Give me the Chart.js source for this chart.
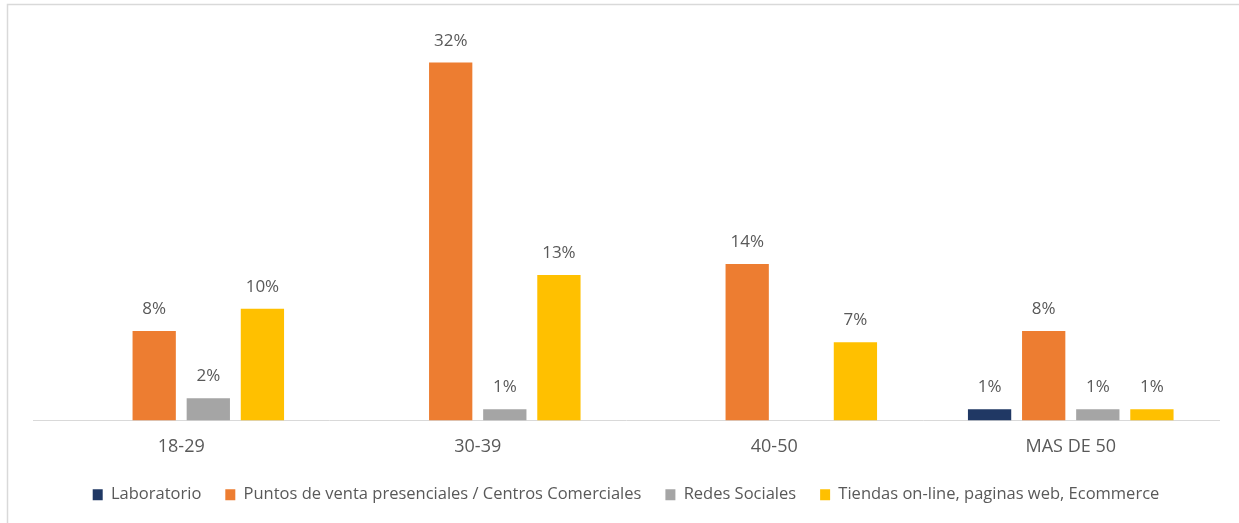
<!DOCTYPE html>
<html>
<head>
<meta charset="utf-8">
<script src="https://cdn.jsdelivr.net/npm/chart.js@4"></script>
<style>
  html, body { margin: 0; padding: 0; background: #fff; }
  #wrap { position: relative; width: 1239px; height: 523px; }
</style>
</head>
<body>
<div id="wrap"><canvas id="myChart"></canvas></div>
<script>
const categories = ['18-29', '30-39', '40-50', 'MAS DE 50'];
const laboratorio = [null, null, null, 1];
const puntosVenta = [8, 32, 14, 8];
const redesSociales = [2, 1, null, 1];
const tiendasOnline = [10, 13, 7, 1];

const textColor = '#595959';
const fontFamily = '"Open Sans", "Liberation Sans", sans-serif';

// thin grey frame line along top and left edge
const framePlugin = {
  id: 'frame',
  beforeDraw(chart) {
    const c = chart.ctx;
    c.save();
    c.strokeStyle = '#d9d9d9';
    c.lineWidth = 1.5;
    c.beginPath();
    c.moveTo(7.5, 523);
    c.lineTo(7.5, 4.5);
    c.lineTo(1239, 4.5);
    c.stroke();
    c.restore();
  }
};

// percentage labels above each bar
const valueLabels = {
  id: 'valueLabels',
  afterDatasetsDraw(chart) {
    const c = chart.ctx;
    c.save();
    c.font = '17px ' + fontFamily;
    c.fillStyle = textColor;
    c.textAlign = 'center';
    c.textBaseline = 'alphabetic';
    chart.data.datasets.forEach((ds, i) => {
      const meta = chart.getDatasetMeta(i);
      meta.data.forEach((bar, j) => {
        const v = ds.data[j];
        if (v === null || v === undefined) return;
        c.fillText(v + '%', bar.x, bar.y - 17);
      });
    });
    c.restore();
  }
};

const ctx = document.getElementById('myChart');
new Chart(ctx, {
  type: 'bar',
  data: {
    labels: categories,
    datasets: [
      { label: 'Laboratorio', data: laboratorio, backgroundColor: '#203864' },
      { label: 'Puntos de venta presenciales / Centros Comerciales', data: puntosVenta, backgroundColor: '#ed7d31' },
      { label: 'Redes Sociales', data: redesSociales, backgroundColor: '#a5a5a5' },
      { label: 'Tiendas on-line, paginas web, Ecommerce', data: tiendasOnline, backgroundColor: '#ffc000' }
    ]
  },
  options: {
    responsive: true,
    maintainAspectRatio: false,
    animation: false,
    devicePixelRatio: 1,
    layout: {
      padding: { top: 29, left: 33, right: 20, bottom: 10 }
    },
    datasets: {
      bar: {
        barPercentage: 0.8,
        categoryPercentage: 0.73
      }
    },
    plugins: {
      legend: {
        position: 'bottom',
        labels: {
          boxWidth: 10,
          boxHeight: 11,
          padding: 24,
          color: textColor,
          font: { family: fontFamily, size: 16.5 }
        }
      },
      tooltip: { enabled: false }
    },
    scales: {
      x: {
        grid: { display: false, drawTicks: false },
        border: { color: '#d9d9d9', width: 1 },
        ticks: {
          color: textColor,
          padding: 16,
          font: { family: fontFamily, size: 18 }
        },
        afterFit(scale) {
          scale.height = 42;
        }
      },
      y: {
        display: false,
        min: 0,
        max: 35
      }
    }
  },
  plugins: [framePlugin, valueLabels]
});
</script>
</body>
</html>
